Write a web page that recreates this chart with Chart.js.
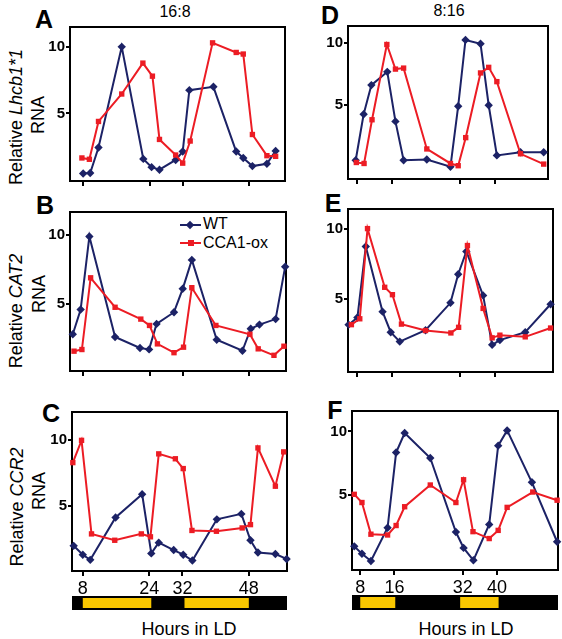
<!DOCTYPE html>
<html><head><meta charset="utf-8">
<script src="https://cdn.jsdelivr.net/npm/chart.js@4.4.1/dist/chart.umd.min.js"></script>
<style>
html,body{margin:0;padding:0;background:#fff;}
body{width:562px;height:639px;position:relative;overflow:hidden;font-family:'Liberation Sans',Arial,sans-serif;color:#000;}
canvas{position:absolute;}
.t{position:absolute;white-space:nowrap;transform:translate(-50%,-50%);line-height:1;}
.r{transform:translate(-50%,-50%) rotate(-90deg);}
.l{position:absolute;white-space:nowrap;transform:translate(0,-50%);line-height:1;font-size:16px;}
.b{font-weight:bold;font-size:25px;}
.yt{font-size:18px;}
</style></head><body>
<div class="t" style="left:175px;top:12px;font-size:16px;">16:8</div>
<div class="t" style="left:449px;top:11px;font-size:16px;">8:16</div>
<div class="t b" style="left:44px;top:19px;">A</div>
<div class="t b" style="left:45px;top:205px;">B</div>
<div class="t b" style="left:51px;top:413px;">C</div>
<div class="t b" style="left:330px;top:15px;">D</div>
<div class="t b" style="left:333px;top:203px;">E</div>
<div class="t b" style="left:335px;top:410px;">F</div>
<div class="t r yt" style="left:16px;top:117px;">Relative <i>Lhcb1*1</i></div>
<div class="t r yt" style="left:38px;top:115px;">RNA</div>
<div class="t r yt" style="left:16px;top:311px;">Relative <i>CAT2</i></div>
<div class="t r yt" style="left:39px;top:294px;">RNA</div>
<div class="t r yt" style="left:17px;top:507px;">Relative <i>CCR2</i></div>
<div class="t r yt" style="left:39px;top:491px;">RNA</div>
<div class="t" style="left:189px;top:629px;font-size:18px;">Hours in LD</div>
<div class="t" style="left:466px;top:629px;font-size:18px;">Hours in LD</div>
<div style="position:absolute;left:180px;top:224px;width:21px;height:2px;background:#1c2266;"></div>
<div style="position:absolute;left:187px;top:222px;width:6px;height:6px;background:#1c2266;transform:rotate(45deg);"></div>
<div class="l" style="left:203px;top:224px;">WT</div>
<div style="position:absolute;left:180px;top:242px;width:21px;height:2px;background:#ec1c24;"></div>
<div style="position:absolute;left:188px;top:240px;width:6px;height:6px;background:#ec1c24;"></div>
<div class="l" style="left:203px;top:243px;">CCA1-ox</div>
<script>
// ---- data ----
const X_TICKS_LEFT = [8, 24, 32, 48];
const X_TICKS_RIGHT = [8, 16, 32, 40];
const Y_TICKS = [5, 10];
const SERIES_NAMES = ['WT', 'CCA1-ox'];

const A_wt_h = [8.0, 9.7, 11.7, 17.3, 22.5, 24.5, 26.4, 30.3, 32.0, 33.6, 39.4, 44.9, 46.6, 48.8, 52.3, 54.4];
const A_wt_v = [0.49, 0.53, 2.44, 10.0, 1.59, 0.97, 0.78, 1.51, 2.14, 6.75, 7.0, 2.14, 1.66, 1.05, 1.22, 2.19];
const A_ox_h = [7.7, 9.5, 11.7, 17.3, 22.4, 24.7, 26.4, 30.3, 32.0, 33.8, 39.2, 44.9, 46.6, 48.8, 52.3, 54.4];
const A_ox_v = [1.66, 1.56, 4.4, 6.46, 8.78, 7.8, 3.05, 1.88, 1.27, 2.93, 10.3, 9.58, 9.46, 3.42, 1.83, 1.78];

const B_wt_h = [5.5, 7.4, 9.5, 15.7, 21.7, 23.9, 25.7, 29.9, 32.0, 34.2, 40.2, 46.4, 48.4, 50.5, 54.4, 56.7];
const B_wt_v = [2.8, 4.6, 9.9, 2.6, 1.8, 1.7, 3.55, 4.4, 6.1, 8.2, 2.4, 1.6, 3.2, 3.5, 3.9, 7.7];
const B_ox_h = [5.8, 7.7, 9.8, 15.7, 21.9, 24.0, 25.9, 29.9, 32.2, 34.2, 40.0, 48.2, 50.2, 54.0, 56.4];
const B_ox_v = [1.57, 1.69, 6.9, 4.76, 3.9, 3.44, 2.1, 1.46, 1.86, 6.18, 3.44, 2.8, 1.74, 1.27, 1.93];

const C_wt_h = [5.8, 8.0, 9.8, 15.9, 22.3, 24.5, 26.3, 29.9, 32.2, 34.4, 40.3, 46.2, 48.4, 50.2, 54.4, 57.1];
const C_wt_v = [2.0, 1.33, 0.94, 4.14, 5.89, 1.43, 2.24, 1.68, 1.33, 0.89, 4.0, 4.41, 2.42, 1.5, 1.38, 1.01];
const C_ox_h = [5.6, 7.7, 10.1, 15.7, 22.1, 24.3, 26.3, 30.3, 32.2, 34.3, 40.2, 46.4, 48.4, 50.2, 54.4, 56.4];
const C_ox_v = [8.28, 9.96, 2.9, 2.42, 2.9, 2.68, 8.94, 8.57, 7.83, 3.16, 3.1, 3.35, 3.6, 9.39, 6.5, 9.09];

const D_wt_h = [7.65, 9.5, 11.3, 15.0, 16.9, 18.8, 24.2, 29.7, 31.5, 33.2, 36.7, 38.6, 40.5, 46.0, 51.4];
const D_wt_v = [0.57, 4.27, 6.62, 7.69, 3.7, 0.57, 0.63, 0.05, 4.92, 10.26, 9.95, 5.0, 0.96, 1.22, 1.22];
const D_ox_h = [7.8, 9.6, 11.45, 14.9, 16.9, 18.8, 24.2, 29.7, 31.5, 33.25, 36.7, 38.6, 40.5, 46.0, 51.4];
const D_ox_v = [0.39, 0.31, 3.83, 9.89, 7.91, 7.99, 1.48, 0.31, 0.13, 2.39, 7.6, 8.05, 6.9, 1.09, 0.26];

const E_wt_h = [6.0, 8.05, 10.0, 13.9, 15.8, 17.9, 23.9, 29.7, 31.5, 33.4, 37.3, 39.4, 41.2, 47.1, 53.0];
const E_wt_v = [3.14, 3.65, 8.72, 4.07, 2.6, 1.93, 2.74, 4.7, 6.74, 8.37, 5.23, 1.7, 2.04, 2.6, 4.6];
const E_ox_h = [6.65, 8.6, 10.4, 14.4, 16.2, 18.3, 23.9, 29.8, 31.6, 33.65, 37.3, 39.4, 41.2, 47.1, 53.0];
const E_ox_v = [3.14, 3.56, 10.0, 5.81, 5.28, 3.18, 2.72, 2.55, 2.95, 8.79, 4.3, 2.2, 2.39, 2.27, 2.9];

const F_wt_h = [6.6, 8.4, 10.5, 14.4, 16.4, 18.4, 24.4, 30.4, 32.2, 34.5, 38.2, 40.3, 42.4, 48.2, 54.1];
const F_wt_v = [1.01, 0.43, -0.13, 2.46, 8.35, 9.88, 7.92, 2.13, 0.89, -0.08, 2.72, 8.89, 10.08, 6.02, 1.37];
const F_ox_h = [6.6, 8.4, 10.5, 14.4, 16.4, 18.4, 24.4, 30.4, 32.2, 34.4, 38.2, 40.3, 42.4, 48.4, 54.1];
const F_ox_v = [5.08, 4.44, 1.96, 1.9, 2.64, 4.11, 5.81, 4.44, 6.22, 2.16, 1.62, 2.26, 4.06, 5.26, 4.62];

// light periods (hours) in each LD regime
const LD_LEFT_LIGHT = [[8, 24.5], [32.5, 48]];
const LD_RIGHT_LIGHT = [[8, 16.2], [31.4, 40.4]];

// ---- styling / layout ----
const NAVY = '#1c2266', RED = '#ec1c24', YELLOW = '#f9c700';
Chart.defaults.font.family = "'Liberation Sans', Arial, sans-serif";
Chart.defaults.color = '#000';

const boxPlugin = {
  id: 'box',
  beforeDatasetsDraw(chart) {
    const {ctx, chartArea: a} = chart;
    ctx.save(); ctx.lineWidth = 2; ctx.strokeStyle = '#000';
    ctx.strokeRect(a.left, a.top, a.right - a.left, a.bottom - a.top);
    ctx.restore();
  }
};

function mkCanvas(l, t, w, h) {
  const c = document.createElement('canvas');
  c.width = w; c.height = h;
  c.style.left = l + 'px'; c.style.top = t + 'px';
  c.style.width = w + 'px'; c.style.height = h + 'px';
  document.body.appendChild(c);
  return c;
}

function pts(h, v) { return h.map((x, i) => ({x: x, y: v[i]})); }

function panel(box, xr, yr, xticks, showX, wtH, wtV, oxH, oxV) {
  const [l, t, r, b] = box;
  const c = mkCanvas(l - 40, t - 6, (r - l) + 46, (b - t) + 6 + 30);
  new Chart(c, {
    type: 'line',
    data: {datasets: [
      {label: SERIES_NAMES[1], data: pts(oxH, oxV), borderColor: RED, backgroundColor: RED, borderWidth: 2,
       pointStyle: 'rect', pointRadius: 3.8, pointBorderWidth: 0, tension: 0, clip: false},
      {label: SERIES_NAMES[0], data: pts(wtH, wtV), borderColor: NAVY, backgroundColor: NAVY, borderWidth: 2,
       pointStyle: 'rectRot', pointRadius: 4.2, pointBorderWidth: 0, tension: 0, clip: false}
    ]},
    options: {
      responsive: false, animation: false, events: [],
      layout: {padding: {top: 6, right: 6, left: 0, bottom: 0}},
      plugins: {legend: {display: false}, tooltip: {enabled: false}},
      scales: {
        x: {type: 'linear', min: xr[0], max: xr[1],
            afterBuildTicks: s => { s.ticks = xticks.map(v => ({value: v})); },
            afterFit: s => { s.height = 30; },
            ticks: {display: showX, font: {size: 18}, padding: 2, maxRotation: 0, autoSkip: false, color: '#000'},
            grid: {display: true, drawOnChartArea: false, drawTicks: true, tickLength: 5, color: '#000', lineWidth: 2},
            border: {display: false}},
        y: {type: 'linear', min: yr[0], max: yr[1],
            afterBuildTicks: s => { s.ticks = Y_TICKS.map(v => ({value: v})); },
            afterFit: s => { s.width = 40; },
            ticks: {font: {size: 15, weight: 'bold'}, padding: 1, color: '#000'},
            grid: {display: true, drawOnChartArea: false, drawTicks: true, tickLength: 4, color: '#000', lineWidth: 2},
            border: {display: false}}
      }
    },
    plugins: [boxPlugin]
  });
}

function ldBar(l, t, w, h, xr, light) {
  const c = mkCanvas(l, t, w, h);
  const ds = [{data: [[xr[0], xr[1]]], backgroundColor: '#000', barPercentage: 1, categoryPercentage: 1, grouped: false, order: 2}];
  light.forEach(p => ds.push({data: [[p[0], p[1]]], backgroundColor: YELLOW, barPercentage: 0.72, categoryPercentage: 1, grouped: false, order: 1}));
  new Chart(c, {
    type: 'bar',
    data: {labels: ['LD'], datasets: ds},
    options: {
      indexAxis: 'y', responsive: false, animation: false, events: [],
      layout: {padding: 0},
      plugins: {legend: {display: false}, tooltip: {enabled: false}},
      scales: {x: {display: false, min: xr[0], max: xr[1]}, y: {display: false}}
    }
  });
}

const XR_A = [4.83, 56.66], XR_B = [4.83, 56.9], XR_C = [5.4, 57.2];
const XR_D = [5.86, 52.4], XR_E = [5.86, 53.56], XR_F = [6.07, 54.31];

panel([70, 23, 285, 181], XR_A, [-0.07, 11.49], X_TICKS_LEFT, false, A_wt_h, A_wt_v, A_ox_h, A_ox_v);
panel([70, 208, 286, 371], XR_B, [0.13, 11.68], X_TICKS_LEFT, false, B_wt_h, B_wt_v, B_ox_h, B_ox_v);
panel([72, 408, 287, 571], XR_C, [0.10, 12.10], X_TICKS_LEFT, true, C_wt_h, C_wt_v, C_ox_h, C_ox_v);
panel([348, 22, 548, 179], XR_D, [-0.94, 11.38], X_TICKS_RIGHT, false, D_wt_h, D_wt_v, D_ox_h, D_ox_v);
panel([348, 205, 553, 372], XR_E, [-0.24, 11.40], X_TICKS_RIGHT, false, E_wt_h, E_wt_v, E_ox_h, E_ox_v);
panel([352, 407, 558, 570], XR_F, [-0.84, 11.60], X_TICKS_RIGHT, true, F_wt_h, F_wt_v, F_ox_h, F_ox_v);

ldBar(72, 596, 215, 14, XR_C, LD_LEFT_LIGHT);
ldBar(352, 595, 206, 15, XR_F, LD_RIGHT_LIGHT);
</script>
</body></html>
